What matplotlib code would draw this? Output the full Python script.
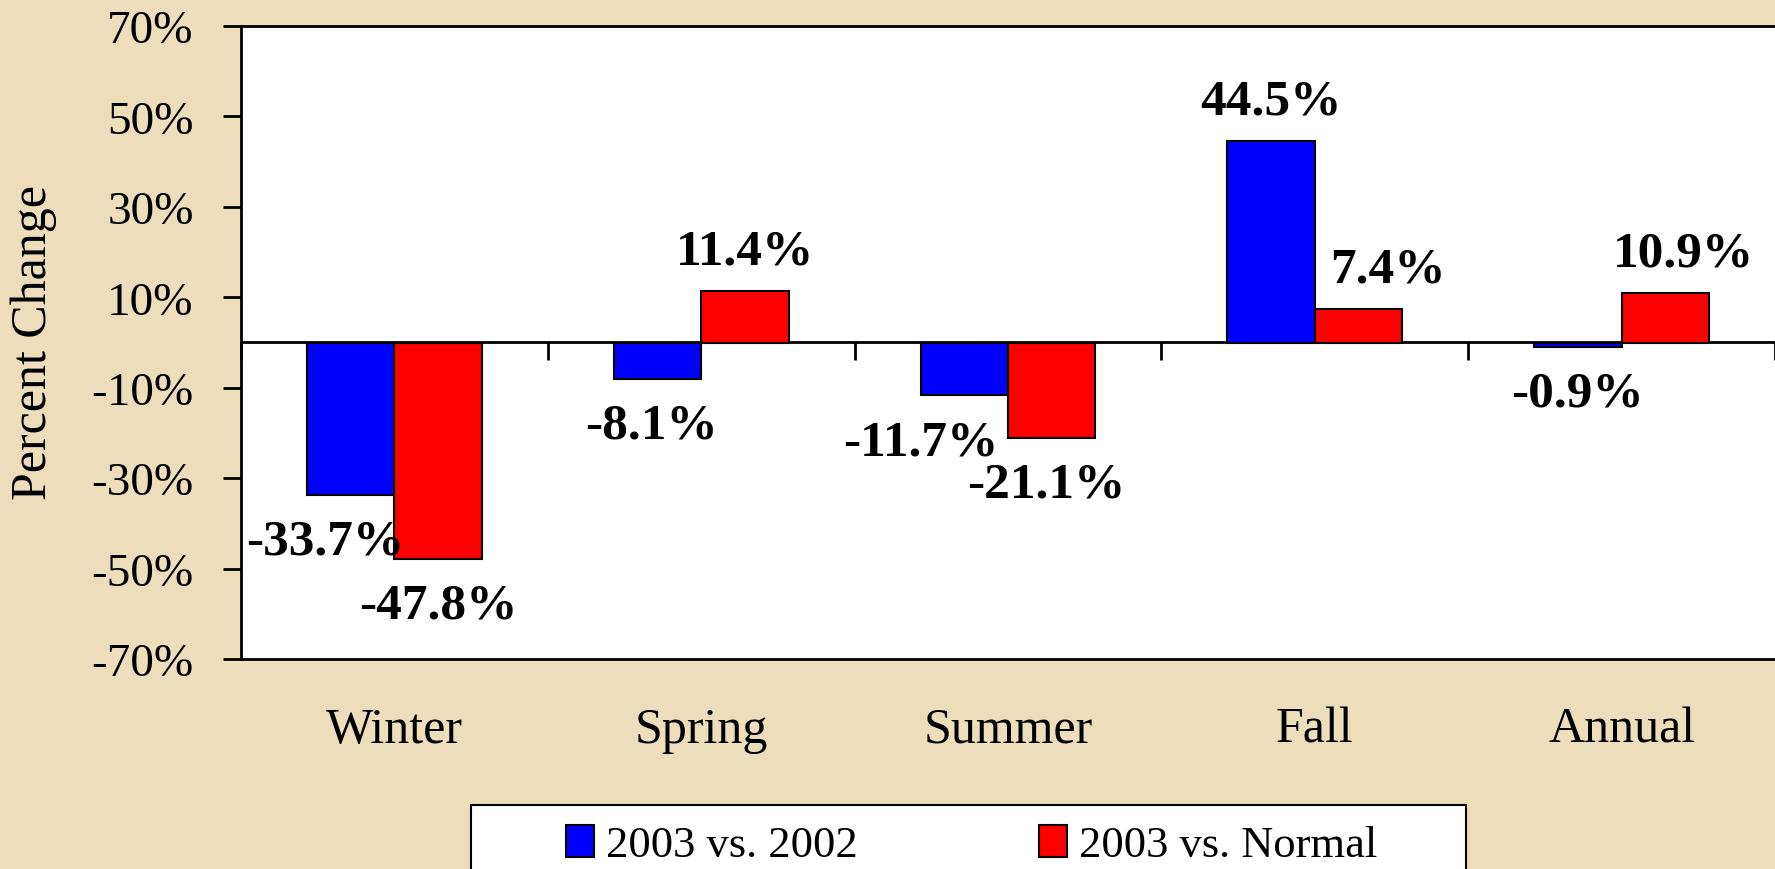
import numpy as np
import matplotlib.pyplot as plt
from matplotlib.patches import Rectangle

plt.rcParams['font.family'] = ['Liberation Serif', 'DejaVu Serif']

seasons = ["Winter", "Spring", "Summer", "Fall", "Annual"]
vs_2002 = [-33.7, -8.1, -11.7, 44.5, -0.9]
vs_normal = [-47.8, 11.4, -21.1, 7.4, 10.9]
series_names = ["2003 vs. 2002", "2003 vs. Normal"]
yticks = list(range(-70, 71, 20))

# label nudges in points (the original labels are shifted a bit to avoid overlap)
blue_dx = [-18, -4, -31, 0, 0]
red_dx = [0, 0, -4, 21, 13]

W, H = 1775, 870
fig = plt.figure(figsize=(W / 100, H / 100), dpi=100)
fig.patch.set_facecolor("#EDDDBA")
ax = fig.add_axes([241 / W, 1 - 660 / H, 1 - 241 / W, (660 - 27) / H])
ax.set_facecolor("white")

x = np.arange(len(seasons))
bw = 0.285
b1 = ax.bar(x - bw / 2, vs_2002, bw, color="#0000FF", edgecolor="black", linewidth=1.5, label=series_names[0])
b2 = ax.bar(x + bw / 2, vs_normal, bw, color="#FF0000", edgecolor="black", linewidth=1.5, label=series_names[1])

for bars, vals, dxs in [(b1, vs_2002, blue_dx), (b2, vs_normal, red_dx)]:
    for rect, v, dx in zip(bars, vals, dxs):
        cx = rect.get_x() + rect.get_width() / 2
        if v >= 0:
            ax.annotate(f"{v:.1f}%", (cx, v), xytext=(dx, 20), textcoords="offset points",
                        ha="center", va="baseline", fontsize=37, fontweight="bold")
        else:
            ax.annotate(f"{v:.1f}%", (cx, v), xytext=(dx, -17), textcoords="offset points",
                        ha="center", va="top", fontsize=37, fontweight="bold")

ax.set_xlim(-0.5, len(seasons) - 0.5)
ax.set_ylim(-70, 70)
ax.set_yticks(yticks)
ax.set_yticklabels([f"{v}%" for v in yticks], fontsize=34)
ax.tick_params(axis="y", direction="out", length=13, width=2, pad=21)
ax.set_xticks(x)
ax.set_xticklabels(seasons, fontsize=36)
ax.tick_params(axis="x", length=0, pad=34)
for s in ["left", "top", "bottom"]:
    ax.spines[s].set_linewidth(2)
ax.spines["right"].set_visible(False)

# zero line with category separators pointing down
sec = ax.secondary_xaxis(0.5)
sec.set_xticks(np.arange(len(seasons) + 1) - 0.5)
sec.tick_params(direction="in", length=13, width=2, labeltop=False, labelbottom=False)
for s in sec.spines.values():
    s.set_linewidth(2)

fig.text(34 / W, 1 - 342 / H, "Percent Change", rotation=90, ha="center", va="center", fontsize=36)

# legend frame
fig.patches.append(Rectangle((471 / W, -0.05), (1466 - 471) / W, (870 - 806) / H + 0.05,
                             transform=fig.transFigure, facecolor="white", edgecolor="black", linewidth=1.5))
fig.legend(handles=[b1, b2], loc="upper left", bbox_to_anchor=(566 / W, 1 - 826 / H), ncol=2,
           frameon=False, fontsize=32, borderpad=0, borderaxespad=0, handlelength=0.63,
           handleheight=0.72, handletextpad=0.27, columnspacing=4.08)

fig.savefig("out.png", dpi=100, facecolor=fig.get_facecolor())
